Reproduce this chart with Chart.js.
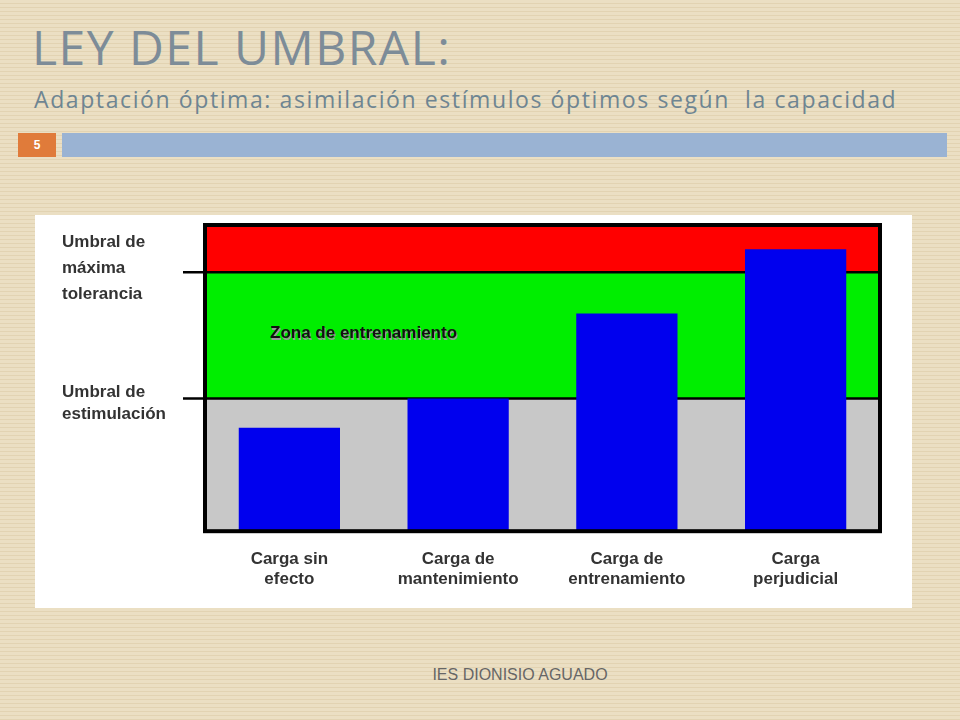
<!DOCTYPE html>
<html><head><meta charset="utf-8">
<script src="https://cdn.jsdelivr.net/npm/chart.js@4/dist/chart.umd.min.js"></script>
<style>
html,body{margin:0;padding:0;width:960px;height:720px;overflow:hidden;font-family:"Liberation Sans",Arial,sans-serif}
body{background:#ebdfc3;background-image:repeating-linear-gradient(to bottom,#ebdfc3 0,#ebdfc3 3px,#e2d3b2 3px,#e2d3b2 4px)}
#t{position:absolute;left:32px;top:14px;font-size:48px;color:#7d8c98;font-family:"Open Sans","DejaVu Sans",sans-serif;letter-spacing:1.5px}
#s{position:absolute;left:34px;top:83px;font-size:23px;color:#6e8592;font-family:"Open Sans","DejaVu Sans",sans-serif;letter-spacing:1.6px}
#num{position:absolute;left:18px;top:133px;width:38px;height:24px;background:#e07b3a;color:#fff;font-size:12px;font-weight:bold;text-align:center;line-height:24px}
#bar{position:absolute;left:62px;top:133px;width:885px;height:24px;background:#9ab3d3}
#panel{position:absolute;left:35px;top:215px;width:877px;height:393px;background:#fff}
#f{position:absolute;left:0;width:1040px;top:666px;text-align:center;font-size:16px;color:#666}
</style></head><body>
<div id="t">LEY DEL UMBRAL:</div>
<div id="s">Adaptación óptima: asimilación estímulos óptimos según&nbsp; la capacidad</div>
<div id="num">5</div><div id="bar"></div>
<div id="panel"><canvas id="c" width="877" height="393"></canvas></div>
<div id="f">IES DIONISIO AGUADO</div>
<script>
const categories=[["Carga sin","efecto"],["Carga de","mantenimiento"],["Carga de","entrenamiento"],["Carga","perjudicial"]];
const values=[33.8,43.3,71.1,92.1];
const thresholds=[43.3,84.6];
const thresholdLabels=[["Umbral de","estimulación"],["Umbral de","máxima","tolerancia"]];
const zoneLabel="Zona de entrenamiento";
const bands={id:'bands',beforeDatasetsDraw(ch){
 const {ctx,chartArea:a,scales:{y}}=ch;
 const y0=y.getPixelForValue(thresholds[0]),y1=y.getPixelForValue(thresholds[1]);
 ctx.save();
 ctx.fillStyle='#c8c8c8';ctx.fillRect(a.left,y0,a.right-a.left,a.bottom-y0);
 ctx.fillStyle='#00ee00';ctx.fillRect(a.left,y1,a.right-a.left,y0-y1);
 ctx.fillStyle='#ff0000';ctx.fillRect(a.left,a.top,a.right-a.left,y1-a.top);
 ctx.strokeStyle='#000';ctx.lineWidth=2.5;
 [y0,y1].forEach(p=>{ctx.beginPath();ctx.moveTo(a.left-22,p);ctx.lineTo(a.right,p);ctx.stroke();});
 ctx.font='bold 17px "Liberation Sans",Arial';ctx.textBaseline='middle';
 ctx.fillStyle='#999';ctx.fillText(zoneLabel,a.left+66,y.getPixelForValue(64.5)+1.5);
 ctx.fillStyle='#111';ctx.fillText(zoneLabel,a.left+65,y.getPixelForValue(64.5));
 ctx.fillStyle='#333';
 thresholdLabels[0].forEach((l,i)=>ctx.fillText(l,27,y0-6+i*22));
 thresholdLabels[1].forEach((l,i)=>ctx.fillText(l,27,y.getPixelForValue(100)+i*26+17));
 ctx.restore();
},afterDatasetsDraw(ch){
 const {ctx,chartArea:a}=ch;ctx.save();ctx.strokeStyle='#000';ctx.lineWidth=4;
 ctx.strokeRect(a.left,a.top,a.right-a.left,a.bottom-a.top);ctx.restore();}};
new Chart(document.getElementById('c'),{type:'bar',
 data:{labels:categories,datasets:[{data:values,backgroundColor:'#0000ee',borderWidth:0,categoryPercentage:0.6,barPercentage:1}]},
 options:{responsive:false,animation:false,
  layout:{padding:{left:170,top:10,right:32,bottom:8}},
  plugins:{legend:{display:false},tooltip:{enabled:false}},
  scales:{y:{display:false,min:0,max:100},
   x:{grid:{display:false},border:{display:false},ticks:{color:'#333',font:{family:'"Liberation Sans",Arial',size:17,weight:'bold'},padding:10}}}},
 plugins:[bands]});
</script></body></html>
